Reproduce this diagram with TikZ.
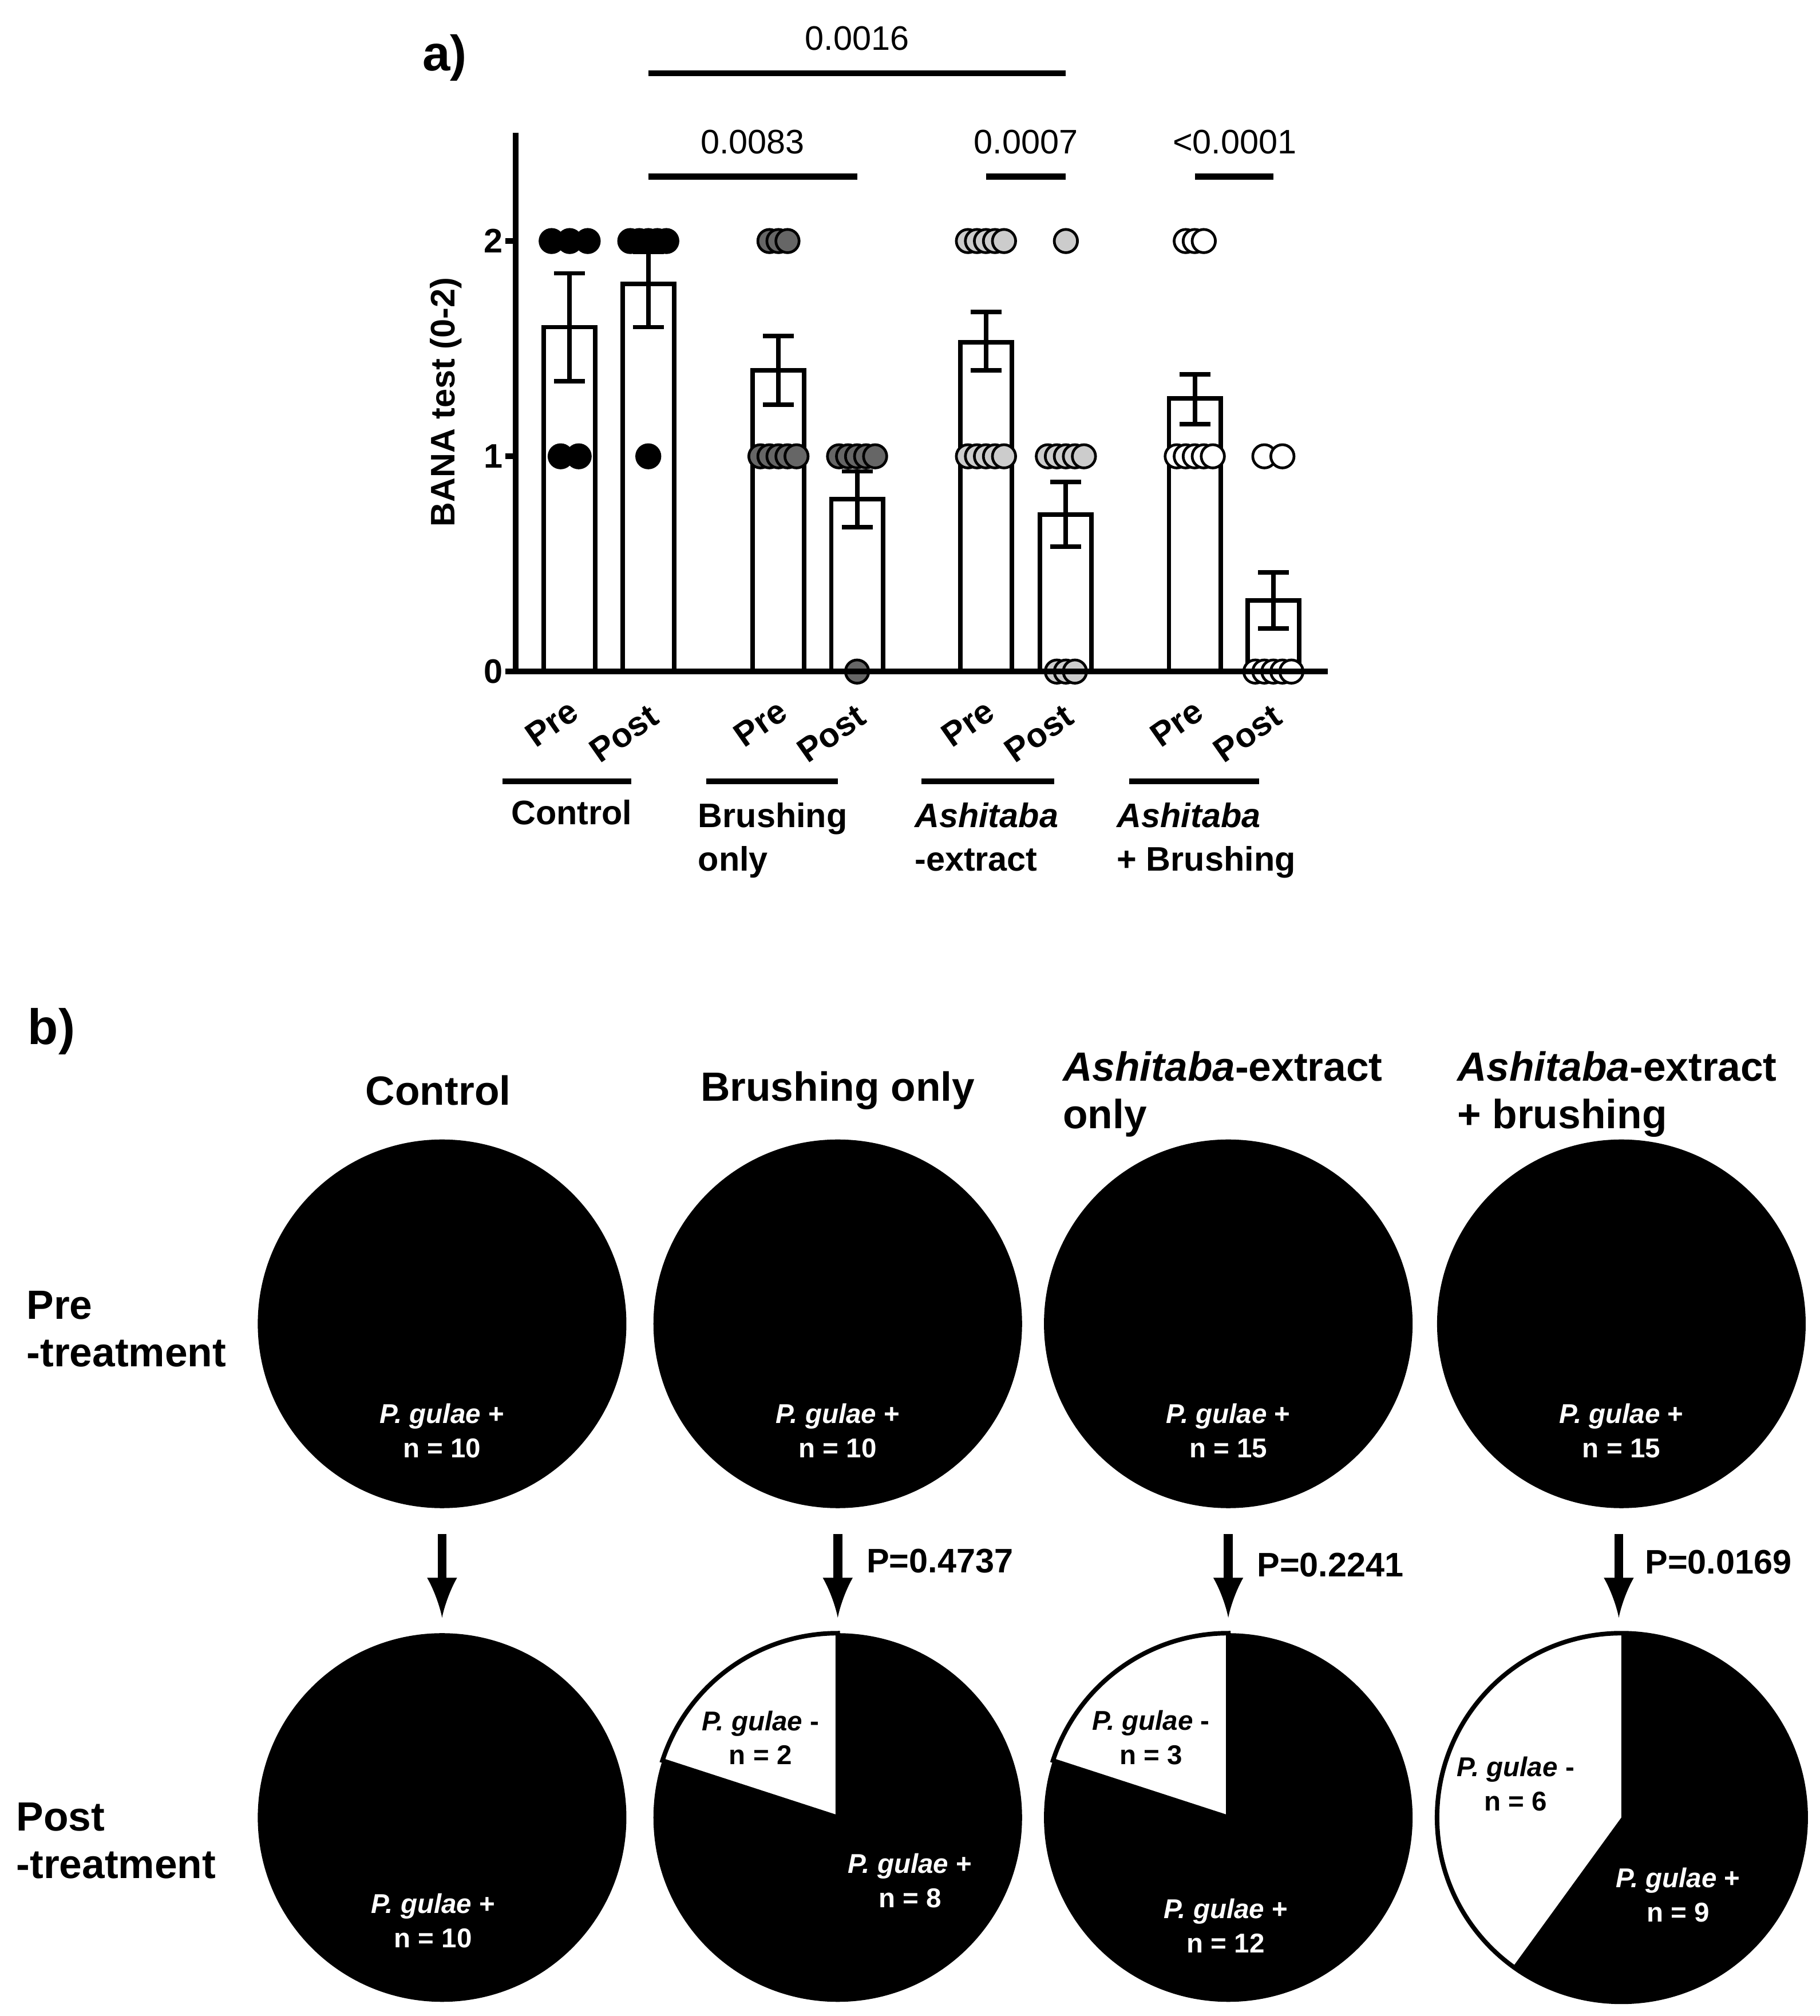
\documentclass[tikz,border=0pt]{standalone}
\usepackage{fontspec}
\setmainfont{Liberation Sans}
\begin{document}
\begin{tikzpicture}[x=0.01cm,y=-0.01cm,
 bar/.style={draw,line width=1pt,fill=white},
 ax/.style={line width=1.3pt},
 eb/.style={line width=1pt},
 dot/.style={circle,draw,line width=0.6pt,minimum size=0.18cm,inner sep=0pt},
 sig/.style={line width=1.3pt},
 lab/.style={anchor=north west,align=left,inner sep=0pt},
 tl/.style={font=\fontsize{7.5}{9}\selectfont\bfseries,rotate=35},
 num/.style={font=\fontsize{7.5}{9}\selectfont},
 pielab/.style={font=\fontsize{6}{7.5}\selectfont\bfseries,align=center},
 hd/.style={font=\fontsize{9}{10.5}\selectfont\bfseries,align=left,anchor=north west,inner sep=0pt},
 pv/.style={anchor=west,font=\fontsize{7.5}{9}\selectfont\bfseries},
 arr/.style={line width=2pt,-{latex}}]
\useasboundingbox (0,0) rectangle (1412,1564);
% bars
\foreach \x/\h/\lo/\hi in {442/1.6/1.35/1.85,503/1.8/1.6/1.95,604/1.4/1.24/1.56,665/0.8/0.67/0.93,765/1.53/1.4/1.67,827/0.73/0.58/0.88,927/1.27/1.15/1.38,988/0.33/0.2/0.46}{
 \draw[bar] (\x-20,521) rectangle (\x+20,{521-167*\h});
 \draw[eb] (\x,{521-167*\lo}) -- (\x,{521-167*\hi});
 \draw[eb] (\x-12,{521-167*\lo}) -- (\x+12,{521-167*\lo});
 \draw[eb] (\x-12,{521-167*\hi}) -- (\x+12,{521-167*\hi});
}
% dots
\foreach \x/\v in {428/2,442/2,456/2,435/1,449/1, 489/2,496/2,503/2,510/2,517/2,503/1}
 \node[dot,fill=black] (d) at (\x,{521-167*\v}) {};
\foreach \x/\v in {597/2,604/2,611/2,590/1,597/1,604/1,611/1,618/1, 651/1,658/1,665/1,672/1,679/1,665/0}
 \node[dot,fill=black!60] (d) at (\x,{521-167*\v}) {};
\foreach \x/\v in {751/2,758/2,765/2,772/2,779/2,751/1,758/1,765/1,772/1,779/1, 827/2,813/1,820/1,827/1,834/1,841/1,820/0,827/0,834/0}
 \node[dot,fill=black!20] (d) at (\x,{521-167*\v}) {};
\foreach \x/\v in {920/2,927/2,934/2,913/1,920/1,927/1,934/1,941/1, 981/1,995/1,974/0,981/0,988/0,995/0,1002/0}
 \node[dot,fill=white] (d) at (\x,{521-167*\v}) {};
% axes
\draw[ax] (400,103) -- (400,521) -- (1030,521);
\foreach \v in {0,1,2}{\draw[ax] (392,{521-167*\v}) -- (400,{521-167*\v});
 \node[font=\fontsize{7.5}{9}\selectfont\bfseries] (t\v) at (383,{521-167*\v}) {\v};}
\node[font=\fontsize{7.5}{9}\selectfont\bfseries,rotate=90] (yl) at (346,312) {BANA test (0-2)};
\node[font=\fontsize{11}{12}\selectfont\bfseries] (a) at (345,45) {a)};
% sig
\draw[sig] (503,57) -- (827,57); \node[num] (s1) at (665,30) {0.0016};
\draw[sig] (503,137) -- (665,137); \node[num] (s2) at (584,110) {0.0083};
\draw[sig] (765,137) -- (827,137); \node[num] (s3) at (796,110) {0.0007};
\draw[sig] (927,137) -- (988,137); \node[num] (s4) at (958,110) {<0.0001};
% tick labels
\foreach \x in {428,590,751,913}{\node[tl] (p) at (\x,561) {Pre};}
\foreach \x in {484,645,806,968}{\node[tl] (q) at (\x,569) {Post};}
\draw[sig] (390,606) -- (490,606); \draw[sig] (548,606) -- (650,606);
\draw[sig] (715,606) -- (818,606); \draw[sig] (876,606) -- (977,606);
\node[lab,font=\fontsize{7.5}{9}\selectfont\bfseries] (g1) at (396,620) {Control};
\node[lab,font=\fontsize{7.5}{9.6}\selectfont\bfseries] (g2) at (541,622) {Brushing\\only};
\node[lab,font=\fontsize{7.5}{9.6}\selectfont\bfseries] (g3) at (709,622) {\itshape Ashitaba\\-extract};
\node[lab,font=\fontsize{7.5}{9.6}\selectfont\bfseries] (g4) at (866,622) {\itshape Ashitaba\\+ Brushing};
% panel b
\node[font=\fontsize{11}{12}\selectfont\bfseries] (b) at (40,800) {b)};
\node[font=\fontsize{9}{10.5}\selectfont\bfseries] (c1) at (340,846) {Control};
\node[font=\fontsize{9}{10.5}\selectfont\bfseries] (c2) at (650,846) {Brushing only};
\node[hd] (c3) at (824,815) {\itshape Ashitaba\upshape-extract\\only};
\node[hd] (c4) at (1130,815) {\itshape Ashitaba\upshape-extract\\+ brushing};
\node[hd] (r1) at (20,1001) {Pre\\-treatment};
\node[hd] (r2) at (12,1398) {Post\\-treatment};
\def\R{143}
\foreach \x/\n in {343/10,650/10,953/15,1258/15}{
 \fill (\x,1027) circle (\R);
 \node[pielab,text=white] (pl) at (\x,1110) {\itshape P. gulae\upshape{} +\\n = \n};
}
\fill (343,1410) circle (\R);
\node[pielab,text=white] (q1) at (336,1490) {\itshape P. gulae\upshape{} +\\n = 10};
\fill (650,1410) circle (\R);
\filldraw[fill=white,draw=black,line width=1pt] (650,1410) -- (650,1267) arc[start angle=-90,end angle=-162,radius=\R] -- cycle;
\node[pielab] (q2a) at (590,1348) {\itshape P. gulae\upshape{} -\\n = 2};
\node[pielab,text=white] (q2b) at (706,1459) {\itshape P. gulae\upshape{} +\\n = 8};
\fill (953,1410) circle (\R);
\filldraw[fill=white,draw=black,line width=1pt] (953,1410) -- (953,1267) arc[start angle=-90,end angle=-162,radius=\R] -- cycle;
\node[pielab] (q3a) at (893,1348) {\itshape P. gulae\upshape{} -\\n = 3};
\node[pielab,text=white] (q3b) at (951,1494) {\itshape P. gulae\upshape{} +\\n = 12};
\filldraw[fill=white,draw=black,line width=1pt] (1258,1410) circle (\R);
\fill (1258,1410) -- (1258,1267) arc[start angle=-90,end angle=126,radius=\R] -- cycle;
\node[pielab] (q4a) at (1176,1384) {\itshape P. gulae\upshape{} -\\n = 6};
\node[pielab,text=white] (q4b) at (1302,1470) {\itshape P. gulae\upshape{} +\\n = 9};
% arrows
\foreach \x/\i in {343/1,650/2,953/3,1256/4}{
 \coordinate (u\i) at (\x,1190); \coordinate (v\i) at (\x,1255);
 \draw[arr] (u\i) -- (v\i);}
\node[pv] (pv2) at (660,1211) {P=0.4737};
\node[pv] (pv3) at (963,1214) {P=0.2241};
\node[pv] (pv4) at (1264,1212) {P=0.0169};
\end{tikzpicture}
\end{document}
